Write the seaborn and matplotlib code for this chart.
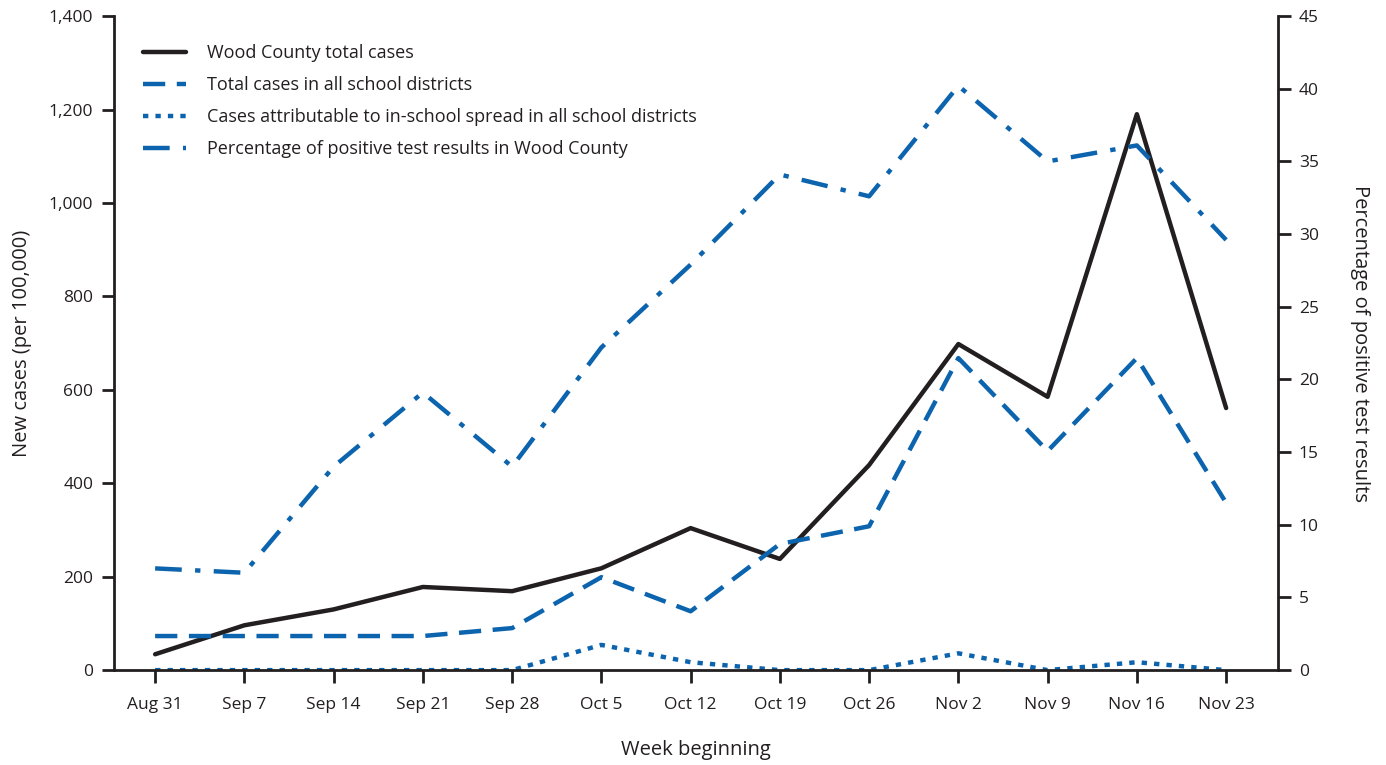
import matplotlib
matplotlib.use("Agg")
import matplotlib.pyplot as plt
import seaborn as sns
import pandas as pd
from matplotlib.ticker import FuncFormatter

weeks = ["Aug 31", "Sep 7", "Sep 14", "Sep 21", "Sep 28", "Oct 5", "Oct 12",
         "Oct 19", "Oct 26", "Nov 2", "Nov 9", "Nov 16", "Nov 23"]
county_cases = [34, 96, 130, 178, 169, 218, 304, 238, 439, 698, 585, 1190, 561]
school_cases = [73, 73, 73, 73, 90, 199, 126, 270, 308, 668, 469, 668, 358]
in_school = [0, 0, 0, 0, 0, 54, 17, 0, 0, 36, 0, 17, 0]
pct_positive = [7.0, 6.7, 14.0, 19.1, 14.0, 22.2, 27.9, 34.1, 32.6, 40.2, 35.0, 36.1, 29.6]

df = pd.DataFrame({"x": range(len(weeks)), "county": county_cases,
                   "school": school_cases, "inschool": in_school,
                   "pct": pct_positive})

sns.set_style("ticks")
plt.rcParams["font.family"] = ["Open Sans", "DejaVu Sans"]
plt.rcParams["font.size"] = 12

black = "#231f20"
blue = "#0b64ad"

fig = plt.figure(figsize=(13.86, 7.65), dpi=100)
ax = fig.add_axes([0.0823, 0.124, 0.8397, 0.855])
ax2 = ax.twinx()

sns.lineplot(data=df, x="x", y="county", ax=ax, color=black, lw=3.2,
             label="Wood County total cases")
sns.lineplot(data=df, x="x", y="school", ax=ax, color=blue, lw=3.2,
             label="Total cases in all school districts")
sns.lineplot(data=df, x="x", y="inschool", ax=ax, color=blue, lw=3.2,
             label="Cases attributable to in-school spread in all school districts")
sns.lineplot(data=df, x="x", y="pct", ax=ax2, color=blue, lw=3.2,
             label="Percentage of positive test results in Wood County")

ax.lines[1].set_dashes((5, 2.6))
ax.lines[2].set_dashes((1.2, 1.6))
ax2.lines[0].set_dashes((6, 3, 1.2, 3))

ax.set_xlim(-0.46, 12.58)
ax.set_ylim(0, 1400)
ax2.set_ylim(0, 45)
ax.set_yticks(range(0, 1401, 200))
ax.yaxis.set_major_formatter(FuncFormatter(lambda v, p: f"{int(v):,}"))
ax2.set_yticks(range(0, 46, 5))
ax.set_xticks(range(len(weeks)))
ax.set_xticklabels(weeks)

for a in (ax, ax2):
    a.spines["top"].set_visible(False)
    a.tick_params(length=9, width=2, color=black, labelsize=12.5,
                  labelcolor=black, pad=6)
ax.spines["left"].set_linewidth(2)
ax.spines["bottom"].set_linewidth(2)
ax2.spines["right"].set_linewidth(2)
ax2.spines["left"].set_visible(False)
ax2.spines["bottom"].set_visible(False)
for s in ("left", "bottom"):
    ax.spines[s].set_color(black)
ax2.spines["right"].set_color(black)
ax.tick_params(axis="x", pad=10)

ax.set_xlabel("Week beginning", fontsize=14.5, color=black, labelpad=20)
ax.set_ylabel("New cases (per 100,000)", fontsize=14.5, color=black, labelpad=12)
ax2.set_ylabel("Percentage of positive test results", fontsize=14.5,
               color=black, rotation=270, labelpad=37)

h1, l1 = ax.get_legend_handles_labels()
h2, l2 = ax2.get_legend_handles_labels()
if ax2.get_legend():
    ax2.get_legend().remove()
ax.legend(h1 + h2, l1 + l2, loc="upper left", bbox_to_anchor=(0.011, 0.982),
          frameon=False, fontsize=13, handlelength=2.4, labelspacing=0.78,
          handletextpad=1.15, labelcolor=black)

fig.savefig("out.png", dpi=100)
